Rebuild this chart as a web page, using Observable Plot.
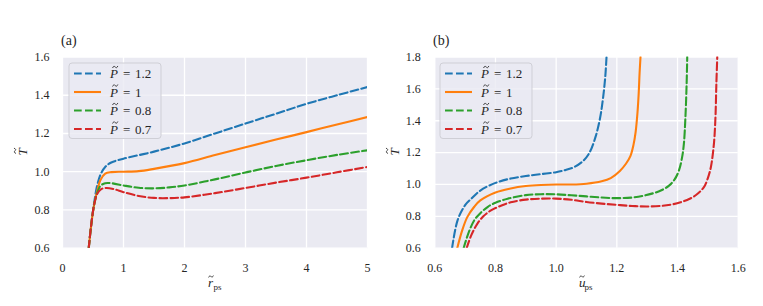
<!DOCTYPE html>
<html>
<head>
<meta charset="utf-8">
<script src="https://cdn.jsdelivr.net/npm/d3@7"></script>
<script src="https://cdn.jsdelivr.net/npm/@observablehq/plot@0.6"></script>
<style>
  html, body { margin: 0; padding: 0; background: #ffffff; }
  #wrap { position: relative; width: 763px; height: 306px; background: #ffffff; }
  #pa, #pb { position: absolute; top: 0; }
  #pa { left: 0; }
  #pb { left: 381px; }
</style>
</head>
<body>
<div id="wrap"><div id="pa"></div><div id="pb"></div></div>
<script>
// ---- Labels / legend ----
const pressureLabels = ["1.2", "1", "0.8", "0.7"];
const seriesColors = ["#1f77b4", "#ff7f0e", "#2ca02c", "#d62728"];
const seriesDashed = [true, false, true, true];

// ---- Ticks ----
const ticksAx = [0, 1, 2, 3, 4, 5];
const ticksAy = [0.6, 0.8, 1.0, 1.2, 1.4, 1.6];
const ticksBx = [0.6, 0.8, 1.0, 1.2, 1.4, 1.6];
const ticksBy = [0.6, 0.8, 1.0, 1.2, 1.4, 1.6, 1.8];

// ---- Panel (a): T vs r_ps, [r, T] ----
const a_P12 = [[0.43,0.6],[0.47,0.72],[0.52,0.84],[0.57,0.93],[0.63,0.99],[0.7,1.025],[0.8,1.048],[1.0,1.068],[1.5,1.105],[2.0,1.148],[2.5,1.2],[3.0,1.252],[3.5,1.303],[4.0,1.355],[4.5,1.4],[5.0,1.443]];
const a_P10 = [[0.43,0.6],[0.47,0.72],[0.52,0.83],[0.57,0.9],[0.62,0.955],[0.7,0.99],[0.8,0.998],[1.0,1.0],[1.25,1.003],[1.5,1.015],[2.0,1.045],[2.5,1.087],[3.0,1.128],[3.5,1.168],[4.0,1.207],[4.5,1.247],[5.0,1.286]];
const a_P08 = [[0.43,0.6],[0.47,0.72],[0.52,0.83],[0.57,0.89],[0.62,0.925],[0.7,0.94],[0.8,0.94],[1.0,0.928],[1.25,0.916],[1.5,0.913],[1.75,0.918],[2.0,0.928],[2.5,0.96],[3.0,0.996],[3.5,1.03],[4.0,1.06],[4.5,1.088],[5.0,1.112]];
const a_P07 = [[0.43,0.6],[0.47,0.72],[0.52,0.83],[0.57,0.885],[0.63,0.908],[0.72,0.915],[0.85,0.908],[1.0,0.893],[1.25,0.873],[1.5,0.863],[1.75,0.862],[2.0,0.866],[2.5,0.888],[3.0,0.915],[3.5,0.943],[4.0,0.969],[4.5,0.997],[5.0,1.025]];

// ---- Panel (b): T vs u_ps, [u, T] ----
const b_P12 = [[0.657,0.6],[0.675,0.775],[0.7,0.87],[0.72,0.91],[0.75,0.962],[0.8,1.01],[0.85,1.037],[0.9,1.053],[0.95,1.065],[1.0,1.077],[1.03,1.09],[1.06,1.11],[1.09,1.15],[1.11,1.2],[1.13,1.3],[1.145,1.42],[1.155,1.55],[1.162,1.68],[1.166,1.8]];
const b_P10 = [[0.674,0.6],[0.69,0.71],[0.707,0.795],[0.73,0.86],[0.75,0.9],[0.8,0.95],[0.85,0.975],[0.9,0.99],[0.95,0.997],[1.0,1.0],[1.05,1.0],[1.1,1.005],[1.15,1.02],[1.18,1.04],[1.21,1.085],[1.23,1.13],[1.245,1.18],[1.255,1.25],[1.262,1.33],[1.268,1.45],[1.272,1.57],[1.275,1.7],[1.278,1.8]];
const b_P08 = [[0.695,0.6],[0.71,0.69],[0.73,0.775],[0.75,0.82],[0.775,0.86],[0.8,0.885],[0.84,0.91],[0.9,0.933],[0.95,0.939],[1.0,0.938],[1.05,0.932],[1.1,0.925],[1.15,0.918],[1.2,0.914],[1.25,0.918],[1.29,0.93],[1.32,0.945],[1.345,0.962],[1.37,0.99],[1.39,1.03],[1.405,1.09],[1.415,1.17],[1.421,1.256],[1.426,1.42],[1.43,1.63],[1.432,1.8]];
const b_P07 = [[0.705,0.6],[0.72,0.68],[0.74,0.753],[0.76,0.8],[0.785,0.837],[0.82,0.868],[0.85,0.888],[0.9,0.905],[0.95,0.911],[1.0,0.911],[1.05,0.904],[1.1,0.89],[1.15,0.88],[1.2,0.872],[1.25,0.865],[1.3,0.862],[1.35,0.866],[1.38,0.874],[1.41,0.888],[1.44,0.91],[1.465,0.94],[1.487,0.983],[1.5,1.04],[1.51,1.11],[1.52,1.256],[1.525,1.42],[1.528,1.63],[1.531,1.8]];

const seriesA = [a_P12, a_P10, a_P08, a_P07];
const seriesB = [b_P12, b_P10, b_P08, b_P07];

const DASH = "7.7,3.3";
const TXT = "#262626";
const SERIF = "'Liberation Serif', 'DejaVu Serif', serif";

function lineMarks(seriesList) {
  return seriesList.map((pts, i) => Plot.line(pts, {
    x: d => d[0], y: d => d[1],
    stroke: seriesColors[i], strokeWidth: 2.1,
    strokeDasharray: seriesDashed[i] ? DASH : null,
    curve: "catmull-rom", clip: true
  }));
}

function makePanel(opts) {
  return Plot.plot({
    width: opts.width, height: 306,
    marginLeft: opts.ml, marginRight: opts.mr, marginTop: 56.5, marginBottom: 58.3,
    style: { background: "transparent", color: TXT, fontSize: "12px", fontFamily: SERIF },
    x: { domain: opts.xd },
    y: { domain: opts.yd },
    marks: [
      Plot.frame({ fill: "#eaeaf2", stroke: null }),
      Plot.gridX(opts.xt, { stroke: "#ffffff", strokeOpacity: 1, strokeWidth: 1.3 }),
      Plot.gridY(opts.yt, { stroke: "#ffffff", strokeOpacity: 1, strokeWidth: 1.3 }),
      Plot.axisX(opts.xt, { tickSize: 0, tickPadding: 15, label: null, tickFormat: opts.xf, fontSize: 12, fill: TXT }),
      Plot.axisY(opts.yt, { tickSize: 0, tickPadding: opts.yp, label: null, tickFormat: d3.format(".1f"), fontSize: 12, fill: TXT }),
      ...lineMarks(opts.series)
    ]
  });
}

// one <text> element built from positioned tspans
function richText(sel, parts, anchor) {
  const t = sel.append("text")
    .attr("style", `font-family:${SERIF};fill:${TXT}`)
    .attr("text-anchor", anchor || "start");
  parts.forEach(p => {
    t.append("tspan").attr("x", p.x).attr("y", p.y)
      .attr("style", `font-size:${p.size}px;font-style:${p.italic ? "italic" : "normal"}`)
      .text(p.s);
  });
  return t;
}

// small tilde accent drawn as a stroke (cx = centre x, cy = centre y, w = width)
function tilde(sel, cx, cy, w) {
  const h = w * 0.22, x0 = cx - w / 2, q = w / 4;
  sel.append("path")
    .attr("d", `M${x0},${cy + h * 0.6} C${x0 + q * 0.6},${cy - h} ${x0 + q * 1.4},${cy - h} ${cx},${cy} S${x0 + w - q * 0.6},${cy + h} ${x0 + w},${cy - h * 0.6}`)
    .attr("fill", "none").attr("stroke", TXT).attr("stroke-width", 0.85).attr("stroke-linecap", "round");
}

function decorate(svg, o) {
  const s = d3.select(svg);
  s.selectAll("text").each(function () { this.style.fontFamily = SERIF; });
  // panel title
  richText(s, [{ x: o.titleX, y: 45, size: 14, s: o.title }]);
  // y label: T with tilde
  const yl = s.append("g").attr("transform", `translate(${o.ylX},152) rotate(-90)`);
  richText(yl, [{ x: 0, y: 4.5, size: 13, italic: true, s: "T" }], "middle");
  tilde(yl, 1.2, -7, 5);
  // x label with tilde and subscript
  const xg = s.append("g").attr("transform", `translate(${o.xlX},287)`);
  richText(xg, [
    { x: -6, y: 0, size: 13, italic: true, s: o.xlMain },
    { x: -0.5, y: 2.5, size: 9, s: "ps" }
  ]);
  tilde(xg, -3, -10.5, 4.5);
  // legend
  const g = s.append("g");
  g.append("rect").attr("x", o.lgX).attr("y", 63).attr("width", 92).attr("height", 75.5)
    .attr("rx", 3).attr("fill", "#eaeaf2").attr("fill-opacity", 0.8).attr("stroke", "#cfcfd6").attr("stroke-width", 1);
  pressureLabels.forEach((p, i) => {
    const y = 73.5 + i * 18.5;
    g.append("line").attr("x1", o.lgX + 5).attr("x2", o.lgX + 32).attr("y1", y).attr("y2", y)
      .attr("stroke", seriesColors[i]).attr("stroke-width", 2.1)
      .attr("stroke-dasharray", seriesDashed[i] ? DASH : null);
    const tx = o.lgX + 41;
    richText(g, [
      { x: tx, y: y + 4.5, size: 13, italic: true, s: "P" },
      { x: tx + 13, y: y + 4.5, size: 13, s: "=" },
      { x: tx + 25, y: y + 4.5, size: 13, s: p }
    ]);
    tilde(g, tx + 5.2, y - 6.5, 5);
  });
}

const svgA = makePanel({ width: 381, ml: 62, mr: 14, xd: [0, 5], yd: [0.6, 1.6], xt: ticksAx, yt: ticksAy, xf: d3.format("d"), yp: 13, series: seriesA });
const svgB = makePanel({ width: 382, ml: 53.3, mr: 25.3, xd: [0.6, 1.6], yd: [0.6, 1.8], xt: ticksBx, yt: ticksBy, xf: d3.format(".1f"), yp: 14, series: seriesB });

decorate(svgA, { title: "(a)", titleX: 61, ylX: 22, xlX: 214, xlMain: "r", lgX: 69 });
decorate(svgB, { title: "(b)", titleX: 52, ylX: 13, xlX: 204, xlMain: "u", lgX: 59 });

document.getElementById("pa").appendChild(svgA);
document.getElementById("pb").appendChild(svgB);
</script>
</body>
</html>
